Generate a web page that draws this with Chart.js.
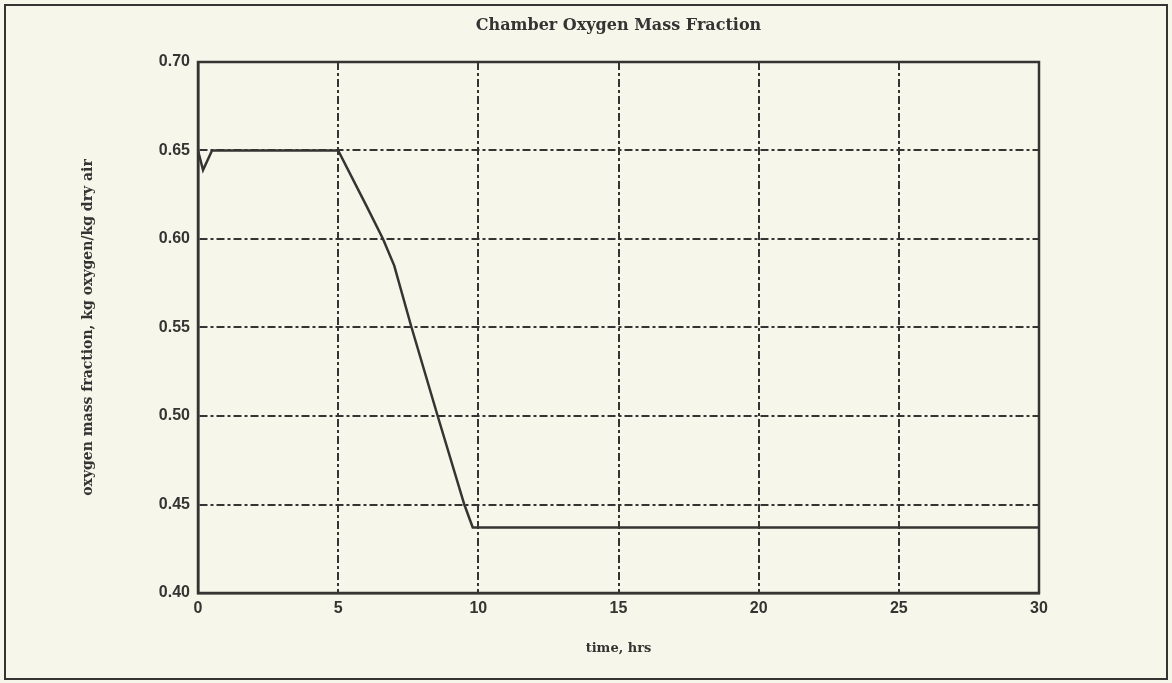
<!DOCTYPE html>
<html>
<head>
<meta charset="utf-8">
<title>Chamber Oxygen Mass Fraction</title>
<script src="https://cdn.jsdelivr.net/npm/chart.js@4.4.1/dist/chart.umd.min.js"></script>
<style>
  html, body { margin: 0; padding: 0; background: #f7f6ea; }
  #wrap { position: relative; width: 1172px; height: 683px; }
  canvas { display: block; }
</style>
</head>
<body>
<div id="wrap"><canvas id="c" width="1172" height="683"></canvas></div>
<script>
// Time since start of run, hours
const timeHrs = [0, 0.18, 0.5, 5, 6, 6.6, 7.0, 7.6, 8.55, 9.5, 9.8, 30];
// Chamber oxygen mass fraction, kg oxygen / kg dry air
const o2Fraction = [0.650, 0.639, 0.650, 0.650, 0.619, 0.600, 0.585, 0.551, 0.500, 0.450, 0.437, 0.437];
// Axis ticks
const xTicks = [0, 5, 10, 15, 20, 25, 30];
const yTicks = [0.40, 0.45, 0.50, 0.55, 0.60, 0.65, 0.70];

const INK = '#353432';
const serif = '"DejaVu Serif", "Liberation Serif", serif';
const sans = '"Liberation Sans", "DejaVu Sans", sans-serif';

const points = timeHrs.map((t, i) => ({ x: t, y: o2Fraction[i] }));

// outer page frame and solid plot box
const framePlugin = {
  id: 'frame',
  beforeDraw(chart) {
    const ctx = chart.ctx;
    ctx.save();
    ctx.fillStyle = '#f7f6ea';
    ctx.fillRect(0, 0, chart.width, chart.height);
    ctx.restore();
  },
  afterDraw(chart) {
    const ctx = chart.ctx;
    const a = chart.chartArea;
    ctx.save();
    ctx.strokeStyle = INK;
    ctx.lineWidth = 2;
    ctx.strokeRect(5, 5, 1162, 674);
    ctx.lineWidth = 2.5;
    ctx.strokeRect(a.left, a.top, a.right - a.left, a.bottom - a.top);
    ctx.restore();
  }
};

new Chart(document.getElementById('c'), {
  type: 'line',
  data: {
    datasets: [{
      data: points,
      borderColor: INK,
      borderWidth: 2.5,
      pointRadius: 0,
      tension: 0,
      fill: false
    }]
  },
  options: {
    responsive: false,
    animation: false,
    layout: { padding: { left: 0, right: 133, top: 0, bottom: 0 } },
    plugins: {
      legend: { display: false },
      tooltip: { enabled: false },
      title: {
        display: true,
        text: 'Chamber Oxygen Mass Fraction',
        fullSize: false,
        color: INK,
        font: { family: serif, size: 16, weight: 'bold' },
        padding: { top: 16, bottom: 26.8 }
      }
    },
    scales: {
      x: {
        type: 'linear',
        min: 0, max: 30,
        afterBuildTicks(scale) { scale.ticks = xTicks.map(v => ({ value: v })); },
        afterFit(scale) { scale.height = 90; },
        ticks: {
          color: INK,
          font: { family: sans, size: 16, weight: 'bold' },
          padding: 6,
          maxRotation: 0
        },
        grid: { color: INK, lineWidth: 2, drawTicks: false },
        border: { display: true, color: INK, width: 2.5, dash: [8, 3, 3, 3] },
        title: {
          display: true,
          text: 'time, hrs',
          color: INK,
          font: { family: serif, size: 13, weight: 'bold' },
          padding: { top: 0, bottom: 27 }
        }
      },
      y: {
        min: 0.40, max: 0.70,
        afterBuildTicks(scale) { scale.ticks = yTicks.map(v => ({ value: v })); },
        afterFit(scale) { scale.width = 198; },
        ticks: {
          color: INK,
          font: { family: sans, size: 16, weight: 'bold' },
          padding: 8,
          callback: v => Number(v).toFixed(2)
        },
        grid: { color: INK, lineWidth: 2, drawTicks: false },
        border: { display: true, color: INK, width: 2.5, dash: [8, 3, 3, 3] },
        title: {
          display: true,
          text: 'oxygen mass fraction, kg oxygen/kg dry air',
          color: INK,
          font: { family: serif, size: 14, weight: 'bold' },
          padding: { top: 80, bottom: 0 }
        }
      }
    }
  },
  plugins: [framePlugin]
});
</script>
</body>
</html>
